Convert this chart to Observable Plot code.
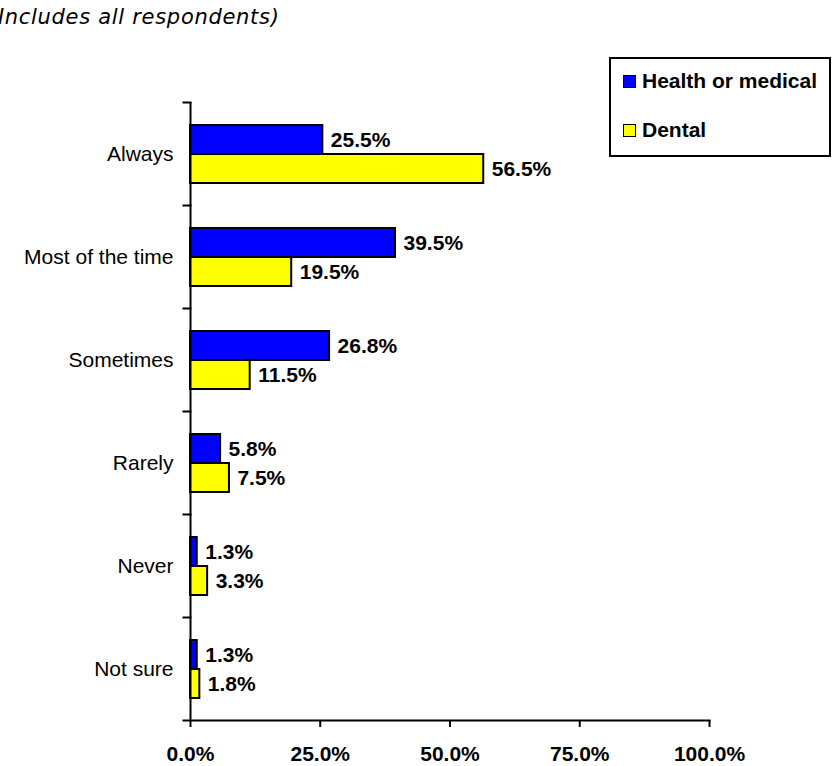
<!DOCTYPE html>
<html><head><meta charset="utf-8">
<script src="https://cdn.jsdelivr.net/npm/d3@7"></script>
<script src="https://cdn.jsdelivr.net/npm/@observablehq/plot@0.6"></script>
<style>
body{margin:0;background:#fff;font-family:"Liberation Sans",Arial,sans-serif;}
#wrap{position:relative;width:838px;height:766px;overflow:hidden;background:#fff;}
#title{position:absolute;left:-11px;top:5px;font-family:"DejaVu Sans",sans-serif;font-style:italic;font-size:21px;letter-spacing:0.7px;white-space:nowrap;color:#000;}
#chart{position:absolute;left:0;top:40px;}
#legend{position:absolute;left:609px;top:57px;width:218px;height:96px;border:2px solid #000;background:#fff;}
.item{position:absolute;left:12px;font-weight:bold;font-size:21px;white-space:nowrap;line-height:24px;}
.sw{display:inline-block;width:11px;height:11px;border:1.5px solid #000;margin-right:6px;vertical-align:0px;}
</style>
</head><body>
<div id="wrap">
  <div id="title">(Includes all respondents)</div>
  <div id="chart"></div>
  <div id="legend"></div>
</div>
<script>
const categories = ["Always","Most of the time","Sometimes","Rarely","Never","Not sure"];
const seriesNames = ["Health or medical","Dental"];
const healthValues = [25.5,39.5,26.8,5.8,1.3,1.3];
const dentalValues = [56.5,19.5,11.5,7.5,3.3,1.8];
const xTicks = [0,25,50,75,100];
const seriesColors = ["#0000ff","#ffff00"];

const data = categories.flatMap((c,i)=>[
  {category:c, series:seriesNames[0], value:healthValues[i]},
  {category:c, series:seriesNames[1], value:dentalValues[i]}
]);

const W=838, H=726, mL=190, mR=129, mT=60, mB=43.5;
const pct = d => d.toFixed(1) + "%";

const plot = Plot.plot({
  width: W, height: H, marginLeft: mL, marginRight: mR, marginTop: mT, marginBottom: mB,
  style: {fontFamily: "'Liberation Sans', Arial, sans-serif", fontSize: "21px", color: "#000", background: "#fff", overflow: "visible"},
  x: {domain: [0,100], axis: null},
  y: {domain: seriesNames, paddingInner: 0, paddingOuter: 0.75, axis: null},
  fy: {domain: categories, padding: 0, axis: null},
  color: {domain: seriesNames, range: seriesColors},
  marks: [
    Plot.barX(data, {fy: "category", y: "series", x: "value", fill: "series", stroke: "#000", strokeWidth: 2}),
    Plot.text(data, {fy: "category", y: "series", x: "value", text: d => pct(d.value), textAnchor: "start", dx: 8, fontWeight: "bold", fontSize: 21, fill: "#000"}),
    Plot.ruleX([0], {stroke: "#000", strokeWidth: 2}),
    Plot.frame({anchor: "top", insetLeft: -7, insetRight: W - mL - mR, stroke: "#000", strokeWidth: 2}),
    Plot.frame({anchor: "bottom", facetAnchor: "bottom", insetLeft: -7, stroke: "#000", strokeWidth: 2}),
    Plot.axisFy({anchor: "left", tickSize: 0, tickPadding: 17, fontSize: 21, label: null}),
    Plot.axisX({ticks: xTicks, tickSize: 7, tickPadding: 19, tickFormat: pct, fontWeight: "bold", fontSize: 21, label: null, strokeWidth: 2})
  ]
});
document.getElementById("chart").appendChild(plot);

const legend = document.getElementById("legend");
seriesNames.forEach((s, i) => {
  const it = document.createElement("div");
  it.className = "item";
  it.style.top = (i === 0 ? 10 : 59) + "px";
  const sw = document.createElement("span");
  sw.className = "sw";
  sw.style.background = seriesColors[i];
  it.appendChild(sw);
  it.appendChild(document.createTextNode(s));
  legend.appendChild(it);
});
</script>
</body></html>
